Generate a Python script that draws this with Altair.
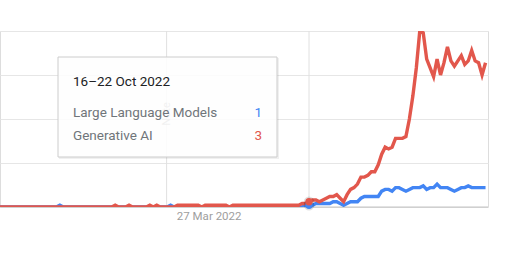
import altair as alt
import pandas as pd

# ---------------- data ----------------
series_names = ["Large Language Models", "Generative AI"]
series_colors = ["#4285f4", "#e2574c"]
first_week = "2021-01-24"          # weekly points, 7 days apart

llm = [
    0, 0, 0, 0, 0, 0, 0, 0, 0, 0,
    0, 0, 0, 0, 0, 0, 0, 0, 1, 0,
    0, 0, 0, 0, 0, 0, 0, 0, 0, 0,
    0, 0, 0, 0, 0, 0, 0, 0, 0, 0,
    0, 0, 0, 0, 0, 0, 0, 0, 0, 0,
    1, 0, 0, 0, 0, 0, 0, 0, 0, 0,
    0, 0, 0, 0, 0, 0, 0, 0, 0, 0,
    0, 0, 0, 0, 0, 0, 0, 0, 0, 0,
    0, 0, 0, 0, 0, 0, 0, 0, 0, 1,
    1, 1, 2, 2, 2, 2, 2, 3, 3, 2,
    1, 2, 3, 3, 3, 5, 6, 6, 6, 6,
    6, 9, 10, 10, 9, 11, 11, 10, 9, 10,
    11, 11, 11, 12, 10, 11, 11, 13, 11, 11,
    11, 10, 9, 10, 11, 11, 12, 11, 11, 11,
    11, 11,
]

genai = [
    0, 0, 0, 0, 0, 0, 0, 0, 0, 0,
    0, 0, 0, 0, 0, 0, 0, 0, 0, 0,
    0, 0, 0, 0, 0, 0, 0, 0, 0, 0,
    0, 0, 0, 0, 1, 0, 0, 0, 1, 0,
    0, 0, 0, 0, 1, 0, 1, 0, 0, 0,
    0, 0, 1, 1, 1, 1, 1, 1, 1, 0,
    1, 1, 1, 1, 1, 1, 1, 0, 1, 1,
    1, 1, 1, 1, 1, 1, 1, 1, 1, 1,
    1, 1, 1, 1, 1, 1, 1, 1, 2, 2,
    3, 4, 4, 3, 4, 5, 6, 6, 7, 5,
    3, 7, 10, 11, 13, 17, 17, 18, 20, 20,
    24, 30, 34, 33, 34, 39, 39, 39, 40, 50,
    63, 79, 100, 99, 84, 79, 74, 84, 75, 82,
    91, 83, 80, 83, 86, 81, 83, 89, 83, 82,
    75, 82,
]

hover_week = "2022-10-16"
note_date = "2022-01-01"
note_label = "Note"
x_tick_dates = ["2022-03-27"]
x_domain = ["2021-01-29", "2023-10-13"]
y_grid_values = [25, 50, 75, 100]

# ---------------- tables ----------------
n = len(llm)
weeks = pd.date_range(first_week, periods=n, freq="7D").strftime("%Y-%m-%d").tolist()
df = pd.DataFrame({
    "date": weeks * 2,
    "series": [series_names[0]] * n + [series_names[1]] * n,
    "value": llm + genai,
})
hover_df = df[df["date"] == hover_week]


def dt(s):
    t = pd.Timestamp(s)
    return alt.DateTime(year=t.year, month=t.month, date=t.day, utc=True)


FONT = "Roboto"

x_enc = alt.X(
    "date:T",
    title=None,
    scale=alt.Scale(type="utc", domain=[dt(d) for d in x_domain]),
    axis=alt.Axis(
        values=[dt(d) for d in x_tick_dates],
        format="%-d %b %Y",
        ticks=False,
        domain=False,
        grid=False,
        labelPadding=3,
        labelFont=FONT,
        labelFontSize=11.5,
        labelColor="#9e9e9e",
    ),
)
y_enc = alt.Y(
    "value:Q",
    title=None,
    scale=alt.Scale(domain=[0, 100], nice=False),
    axis=alt.Axis(
        values=y_grid_values,
        grid=True,
        labels=False,
        ticks=False,
        domain=False,
        gridColor="#e6e6e6",
        gridWidth=1,
    ),
)
color_enc = alt.Color(
    "series:N",
    scale=alt.Scale(domain=series_names, range=series_colors),
    legend=None,
)

base = alt.Chart(df)

vrules = alt.Chart(pd.DataFrame({"date": [note_date, hover_week]})).mark_rule(
    color="#e0e0e0", strokeWidth=1
).encode(x=x_enc)

baseline = alt.Chart(pd.DataFrame({"value": [0]})).mark_rule(
    color="#c4c4c4", strokeWidth=1
).encode(y=y_enc)

note_text = alt.Chart(pd.DataFrame({"date": [note_date]})).mark_text(
    text=note_label, angle=270, font=FONT, fontSize=11, color="#6f6f6f",
    align="center", baseline="middle", dx=6,
).encode(x=x_enc, y=alt.value(89))

line_llm = base.transform_filter(
    alt.datum.series == series_names[0]
).mark_line(strokeWidth=3.4, clip=True).encode(x=x_enc, y=y_enc, color=color_enc)

line_gen = base.transform_filter(
    alt.datum.series == series_names[1]
).mark_line(strokeWidth=3.4, clip=True).encode(x=x_enc, y=y_enc, color=color_enc)

halo = alt.Chart(hover_df).mark_circle(size=110, color="#000000", opacity=0.12).encode(
    x=x_enc, y=y_enc
)
dots = alt.Chart(hover_df).mark_circle(size=55, opacity=1).encode(
    x=x_enc, y=y_enc, color=color_enc
)

# tooltip box
one = pd.DataFrame({"k": [0]})
tip_shadow = alt.Chart(one).mark_rect(fill="#000000", opacity=0.06).encode(
    x=alt.value(59), x2=alt.value(279), y=alt.value(27), y2=alt.value(128)
)
tip_box = alt.Chart(one).mark_rect(
    fill="#ffffff", fillOpacity=0.9, stroke="#cccccc", strokeWidth=1
).encode(x=alt.value(58), x2=alt.value(277), y=alt.value(26), y2=alt.value(126))

start = pd.Timestamp(hover_week)
end = start + pd.Timedelta(days=6)
tip_title = f"{start.day}\u2013{end.day} {end.strftime('%b %Y')}"

title_txt = alt.Chart(one).mark_text(
    text=tip_title, font=FONT, fontSize=13.5, color="#202124",
    align="left", baseline="alphabetic",
).encode(x=alt.value(73), y=alt.value(55))

row_layers = []
row_y = [86, 109]
for i, name in enumerate(series_names):
    val = int(hover_df[hover_df["series"] == name]["value"].iloc[0])
    row_layers.append(
        alt.Chart(one).mark_text(
            text=name, font=FONT, fontSize=13.5, color="#70757a",
            align="left", baseline="alphabetic",
        ).encode(x=alt.value(73), y=alt.value(row_y[i]))
    )
    row_layers.append(
        alt.Chart(one).mark_text(
            text=str(val), font=FONT, fontSize=13.5, color=series_colors[i],
            align="right", baseline="alphabetic",
        ).encode(x=alt.value(262), y=alt.value(row_y[i]))
    )

chart = alt.layer(
    vrules, baseline, note_text, line_llm, line_gen, halo, dots,
    tip_shadow, tip_box, title_txt, *row_layers,
).properties(
    width=488,
    height=176,
    autosize=alt.AutoSizeParams(type="none"),
    padding={"left": 0, "top": 31, "right": 24, "bottom": 54},
).configure_view(stroke=None).configure(background="#ffffff")

chart.save("out.html", embed_options={"renderer": "svg", "actions": False})
